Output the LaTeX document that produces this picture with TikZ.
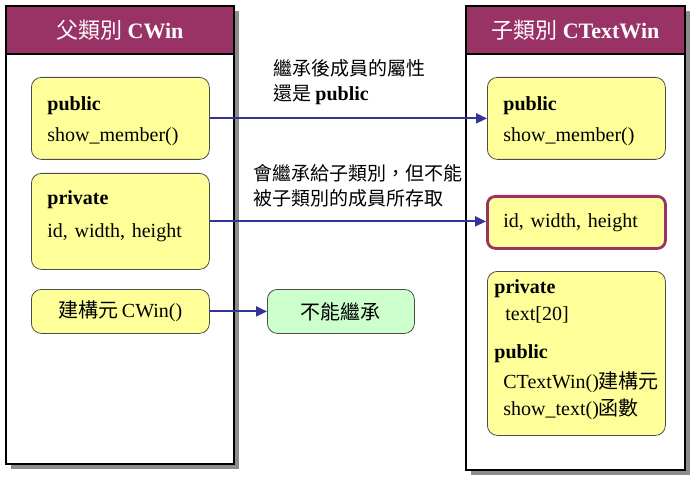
\documentclass[tikz,border=0pt]{standalone}
\usepackage{fontspec}
\setmainfont{Liberation Serif}
\newfontfamily\cjk{Noto Sans CJK TC}
\usetikzlibrary{arrows.meta,shadows,positioning}

\definecolor{headpurple}{RGB}{153,51,102}
\definecolor{boxyellow}{RGB}{255,255,153}
\definecolor{boxgreen}{RGB}{204,255,204}
\definecolor{arrowblue}{RGB}{51,51,153}

\tikzset{
  classpanel/.style={draw=black, line width=1.6pt, fill=white, anchor=north west, inner sep=0pt,
    drop shadow={shadow xshift=5pt, shadow yshift=-5pt, fill=black!45, opacity=1}},
  classhead/.style={draw=black, line width=1.6pt, fill=headpurple, text=white, anchor=north west,
    inner sep=0pt, font=\fontsize{22}{26}\selectfont},
  membox/.style={draw=black!70, fill=boxyellow, rounded corners=10pt, line width=0.8pt,
    anchor=north west, minimum width=178, inner xsep=16pt, inner ysep=0pt, text width=146pt,
    align=left, font=\fontsize{20}{27}\selectfont},
  note/.style={anchor=west, inner sep=0pt, align=left, font=\cjk\fontsize{19}{25}\selectfont},
  inherit/.style={draw=arrowblue, line width=2pt, -{Triangle[length=11pt,width=10pt]}}
}

\begin{document}
\begin{tikzpicture}[x=1pt,y=-1pt]
\useasboundingbox (0,0) rectangle (696,481);

% class panels
\node[classpanel, minimum width=228, minimum height=458] (parent) at (5,5) {};
\node[classhead, minimum width=228, minimum height=48] (parenthead) at (5,5) {{\cjk 父類別} \textbf{CWin}};
\node[classpanel, minimum width=219, minimum height=464] (child) at (465,5) {};
\node[classhead, minimum width=219, minimum height=48] (childhead) at (465,5) {{\cjk 子類別} \textbf{CTextWin}};

% members of CWin
\node[membox, text height=33pt, text depth=49pt] (parentpub) at (31,77) {\textbf{public}\\[4pt] show\_member()};
\node[membox, text height=31pt, text depth=65pt] (parentpriv) at (31,173) {\textbf{private}\\[6pt] id, width, height};
\node[membox, align=center, minimum height=44] (parentctor) at (31,289) {{\cjk 建構元}\,CWin()};

% members of CTextWin
\node[membox, text height=33pt, text depth=49pt] (childpub) at (487,77) {\textbf{public}\\[4pt] show\_member()};
\node[membox, draw=headpurple, line width=2.8pt, minimum height=52, rounded corners=8pt] (childdata) at (486,195) {id, width, height};
\node[membox, inner xsep=7pt, text width=164pt, text height=22pt, text depth=142pt] (childown) at (487,271)
  {\textbf{private}\\ \hspace*{11pt}text[20]\\[11pt] \textbf{public}\\[3pt]
   \hspace*{9pt}\mbox{CTextWin(){\cjk 建構元}}\\ \hspace*{9pt}\mbox{show\_text(){\cjk 函數}}};

% not inherited
\node[membox, fill=boxgreen, minimum width=147, text width=115pt, align=center, minimum height=44] (noinherit) at (267,289) {\cjk 不能繼承};

% arrows
\draw[inherit] (parentpub) -- (childpub);
\draw[inherit] (parentpriv.east) -- (parentpriv.east -| childdata.west);
\draw[inherit] (parentctor.east) -- (parentctor.east -| noinherit.west);

% notes
\node[note] (publicnote) at (273,82.5) {繼承後成員的屬性\\還是 {\rmfamily\bfseries\fontsize{20}{25}\selectfont public}};
\node[note] (privatenote) at (253,185.5) {會繼承給子類別，但不能\\被子類別的成員所存取};

\end{tikzpicture}
\end{document}
